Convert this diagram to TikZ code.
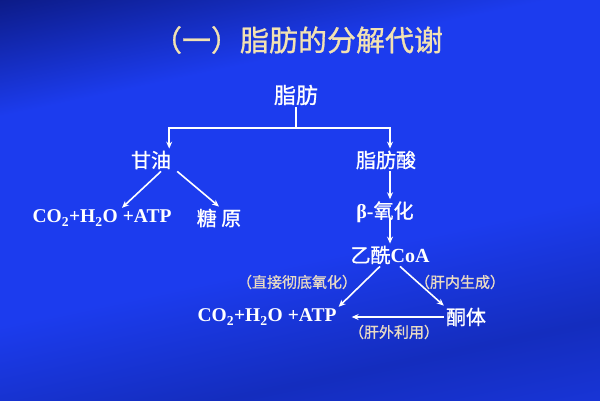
\documentclass[tikz,border=0pt]{standalone}
\usepackage{fontspec}
\setmainfont{Liberation Serif}
\newfontfamily\cjk{Noto Sans CJK SC}[FakeBold=1]
\usetikzlibrary{arrows.meta}
\definecolor{bgdark}{RGB}{10,22,120}
\definecolor{bgmid}{RGB}{20,45,190}
\definecolor{bgbright}{RGB}{28,60,238}
\definecolor{titlecol}{RGB}{242,226,178}
\definecolor{notecol}{RGB}{232,218,196}
\pgfdeclareverticalshading{slidebg}{100bp}{color(0bp)=(bgmid); color(10bp)=(bgdark); color(22bp)=(bgbright); color(35bp)=(bgmid); color(45bp)=(bgbright); color(62bp)=(bgbright); color(73bp)=(bgdark); color(80bp)=(bgmid); color(88bp)=(bgbright); color(100bp)=(bgmid)}
\begin{document}
\begin{tikzpicture}[x=1pt,y=-1pt,>={Stealth[length=7pt,width=6pt]},
  arr/.style={->,draw=white,line width=1.6pt},
  main node/.style={text=white,inner sep=2pt,font=\cjk\fontsize{20}{22}\selectfont},
  chem node/.style={text=white,inner sep=2pt,font=\bfseries\fontsize{19.5}{21}\selectfont},
  note node/.style={text=notecol,inner sep=1pt,font=\cjk\fontsize{15}{17}\selectfont}]%
\useasboundingbox (0,0) rectangle (600,400);
\begin{scope}
\clip (0,0) rectangle (600,400);
\begin{scope}[transform canvas={rotate around={12:(300,200)}}]
\shade[shading=slidebg] (-100,-100) rectangle (700,500);
\end{scope}
\end{scope}
\node[text=titlecol,font=\cjk\fontsize{29}{31}\selectfont] (title) at (298,40) {（一）脂肪的分解代谢};
\begin{scope}
\node[main node,font=\cjk\fontsize{22}{24}\selectfont] (zf) at (296,95) {脂肪};
\node[main node] (gy) at (151,160) {甘油};
\node[main node] (zfs) at (386,160) {脂肪酸};
\node[chem node] (co2a) at (102,218) {CO\textsubscript{2}+H\textsubscript{2}O +ATP};
\node[main node] (ty) at (219,218) {糖 原};
\node[main node] (box) at (385,212) {{\bfseries\rmfamily β-}氧化};
\node[main node] (acoa) at (390,255) {乙酰{\bfseries\rmfamily CoA}};
\node[chem node] (co2b) at (267,317) {CO\textsubscript{2}+H\textsubscript{2}O +ATP};
\node[main node] (tt) at (466,317) {酮体};
\node[note node] (n1) at (297,282) {（直接彻底氧化）};
\node[note node] (n2) at (460,282) {（肝内生成）};
\node[note node] (n3) at (394,332) {（肝外利用）};
\coordinate (split) at (296,128);
\end{scope}
\begin{scope}[every path/.style={arr}]
\draw[-] (zf) -- (split);
\draw (split) -| ([xshift=-4pt]gy.north east);
\draw (split) -| ([xshift=4pt]zfs.north);
\draw ([xshift=10pt]gy.south) -- ([xshift=20pt]co2a.north);
\draw ([xshift=4pt]gy.south east) -- (ty.north);
\draw ([xshift=4pt]zfs.south) -- ([xshift=4pt]zfs.south |- box.north);
\draw ([yshift=6pt]acoa.north |- box.south) -- (acoa.north);
\draw ([xshift=-10pt]acoa.south) -- (co2b.north east);
\draw ([xshift=10pt]acoa.south) -- (tt.north west);
\draw (tt.west) -- ([xshift=13pt]co2b.east);
\end{scope}
\end{tikzpicture}
\end{document}
